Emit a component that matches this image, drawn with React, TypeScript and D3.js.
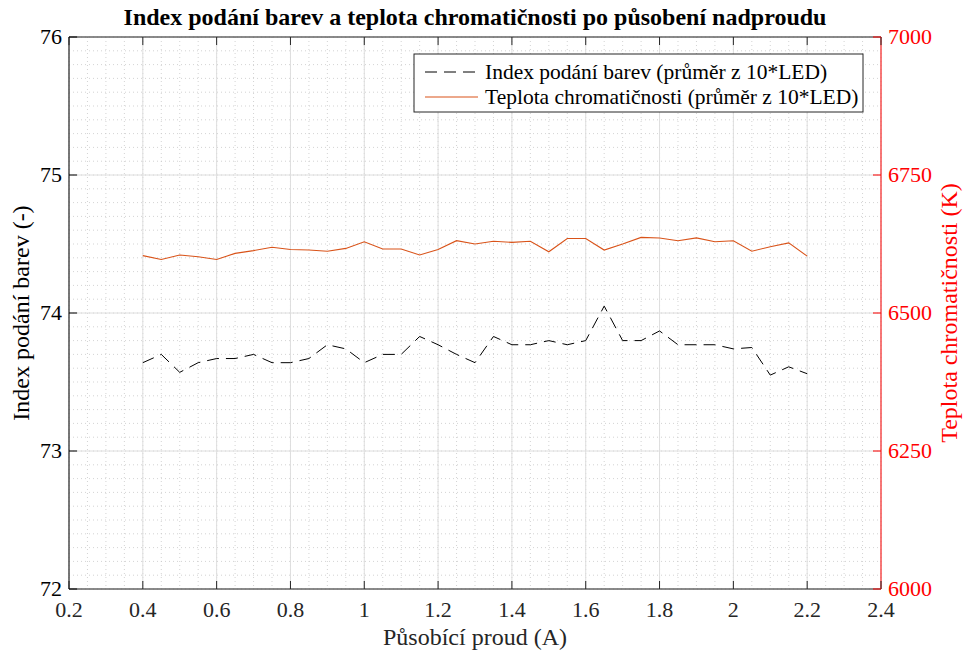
import React from "react";
import * as d3 from "d3";

const currents = [0.4,0.45,0.5,0.55,0.6,0.65,0.7,0.75,0.8,0.85,0.9,0.95,1.0,1.05,1.1,1.15,1.2,1.25,1.3,1.35,1.4,1.45,1.5,1.55,1.6,1.65,1.7,1.75,1.8,1.85,1.9,1.95,2.0,2.05,2.1,2.15,2.2];
const criValues = [73.64,73.70,73.57,73.64,73.67,73.67,73.70,73.64,73.64,73.67,73.77,73.74,73.64,73.70,73.70,73.83,73.77,73.70,73.64,73.83,73.77,73.77,73.80,73.77,73.80,74.05,73.80,73.80,73.87,73.77,73.77,73.77,73.74,73.75,73.55,73.61,73.56];
const cctValues = [6604,6597,6605,6602,6597,6608,6613,6619,6615,6614,6612,6617,6629,6616,6616,6605,6615,6631,6625,6630,6628,6630,6611,6635,6635,6614,6625,6637,6636,6631,6636,6629,6631,6612,6620,6627,6603];
const xTicks = [0.2,0.4,0.6,0.8,1,1.2,1.4,1.6,1.8,2,2.2,2.4];
const leftTicks = [72,73,74,75,76];
const rightTicks = [6000,6250,6500,6750,7000];
const legendLabels = ["Index podání barev (průměr z 10*LED)", "Teplota chromatičnosti (průměr z 10*LED)"];

const W = 963, H = 653;
const L = 69, R = 881, T = 37, B = 589;
const FONT = "Liberation Serif";
const ORANGE = "#D95319";
const RED = "#FF0000";

export default function App() {
  const x = d3.scaleLinear().domain([0.2, 2.4]).range([L, R]);
  const yL = d3.scaleLinear().domain([72, 76]).range([B, T]);
  const yR = d3.scaleLinear().domain([6000, 7000]).range([B, T]);

  const minorX = d3.range(0.2, 2.4001, 0.05);
  const minorY = d3.range(72, 76.0001, 0.1);

  const criLine = d3.line<number>().x((_, i) => x(currents[i])).y((d) => yL(d))(criValues) || "";
  const cctLine = d3.line<number>().x((_, i) => x(currents[i])).y((d) => yR(d))(cctValues) || "";

  const tl = 8;
  const ts: React.CSSProperties = { fontFamily: FONT };

  return (
    <svg width={W} height={H} style={{ position: "absolute", left: 0, top: 0, background: "#fff" }}>
      <rect x={0} y={0} width={W} height={H} fill="#fff" />
      {minorX.map((v, i) => (
        <line key={"mx" + i} x1={x(v)} x2={x(v)} y1={T} y2={B} stroke="#c8c8c8" strokeWidth={0.8} strokeDasharray="1,3" />
      ))}
      {minorY.map((v, i) => (
        <line key={"my" + i} x1={L} x2={R} y1={yL(v)} y2={yL(v)} stroke="#c8c8c8" strokeWidth={0.8} strokeDasharray="1,3" />
      ))}
      {xTicks.map((v, i) => (
        <line key={"gx" + i} x1={x(v)} x2={x(v)} y1={T} y2={B} stroke="#dedede" strokeWidth={1} />
      ))}
      {leftTicks.map((v, i) => (
        <line key={"gy" + i} x1={L} x2={R} y1={yL(v)} y2={yL(v)} stroke="#dedede" strokeWidth={1} />
      ))}

      <path d={cctLine} fill="none" stroke={ORANGE} strokeWidth={1.1} />
      <path d={criLine} fill="none" stroke="#000" strokeWidth={1} strokeDasharray="12,7" />

      <line x1={L} x2={R} y1={T} y2={T} stroke="#262626" strokeWidth={1} />
      <line x1={L} x2={R} y1={B} y2={B} stroke="#262626" strokeWidth={1} />
      <line x1={L} x2={L} y1={T} y2={B} stroke="#000" strokeWidth={1} />
      <line x1={R} x2={R} y1={T} y2={B} stroke={RED} strokeWidth={1} />

      {xTicks.map((v, i) => (
        <g key={"xt" + i}>
          <line x1={x(v)} x2={x(v)} y1={B} y2={B - tl} stroke="#262626" />
          <line x1={x(v)} x2={x(v)} y1={T} y2={T + tl} stroke="#262626" />
          <text x={x(v)} y={617} textAnchor="middle" fontSize={22} fill="#262626" style={ts}>{String(v)}</text>
        </g>
      ))}
      {leftTicks.map((v, i) => (
        <g key={"lt" + i}>
          <line x1={L} x2={L + tl} y1={yL(v)} y2={yL(v)} stroke="#000" />
          <text x={L - 7} y={yL(v) + 7} textAnchor="end" fontSize={22} fill="#000" style={ts}>{v}</text>
        </g>
      ))}
      {rightTicks.map((v, i) => (
        <g key={"rt" + i}>
          <line x1={R} x2={R - tl} y1={yR(v)} y2={yR(v)} stroke={RED} />
          <text x={R + 7} y={yR(v) + 7} textAnchor="start" fontSize={22} fill={RED} style={ts}>{v}</text>
        </g>
      ))}

      <text x={(L + R) / 2} y={25} textAnchor="middle" fontSize={24} fontWeight="bold" fill="#000" style={ts}>
        Index podání barev a teplota chromatičnosti po působení nadproudu
      </text>
      <text x={(L + R) / 2} y={645} textAnchor="middle" fontSize={24} fill="#262626" style={ts}>Působící proud (A)</text>
      <text transform={`translate(29, ${(T + B) / 2}) rotate(-90)`} textAnchor="middle" fontSize={24} fill="#000" style={ts}>
        Index podání barev (-)
      </text>
      <text transform={`translate(957, ${(T + B) / 2}) rotate(-90)`} textAnchor="middle" fontSize={24} fill={RED} style={ts}>
        Teplota chromatičnosti (K)
      </text>

      <rect x={414} y={54} width={449} height={58} fill="#fff" stroke="#262626" strokeWidth={1} />
      <line x1={425} x2={478} y1={72} y2={72} stroke="#000" strokeDasharray="12,7" />
      <text x={485} y={79} fontSize={21.5} fill="#000" style={ts}>{legendLabels[0]}</text>
      <line x1={425} x2={478} y1={97} y2={97} stroke={ORANGE} strokeWidth={1.1} />
      <text x={485} y={104} fontSize={21.5} fill="#000" style={ts}>{legendLabels[1]}</text>
    </svg>
  );
}
